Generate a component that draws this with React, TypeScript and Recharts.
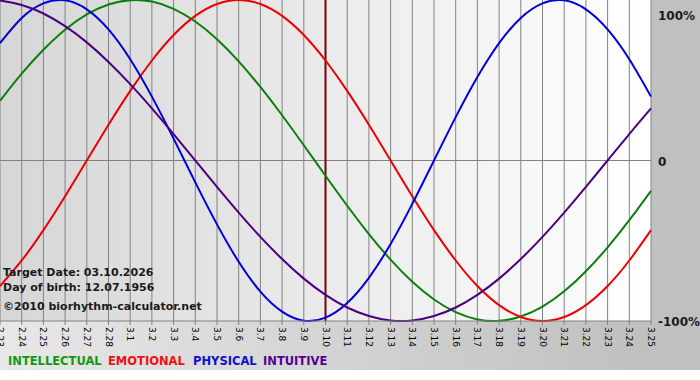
import { LineChart, Line, XAxis, YAxis, CartesianGrid, ReferenceLine } from 'recharts'

// days around the target date (month.day)
const days = [
  '2.23', '2.24', '2.25', '2.26', '2.27', '2.28', '3.1', '3.2', '3.3', '3.4', '3.5',
  '3.6', '3.7', '3.8', '3.9', '3.10', '3.11', '3.12', '3.13', '3.14', '3.15', '3.16',
  '3.17', '3.18', '3.19', '3.20', '3.21', '3.22', '3.23', '3.24', '3.25',
]

// values in percent
const physical = [73.1, 88.8, 97.9, 99.8, 94.2, 81.7, 63.1, 39.8, 13.6, -13.6, -39.8, -63.1, -81.7, -94.2, -99.8, -97.9, -88.8, -73.1, -52.0, -27.0, 0, 27.0, 52.0, 73.1, 88.8, 97.9, 99.8, 94.2, 81.7, 63.1, 39.8]
const emotional = [-78.2, -62.3, -43.4, -22.3, 0, 22.3, 43.4, 62.3, 78.2, 90.1, 97.5, 100, 97.5, 90.1, 78.2, 62.3, 43.4, 22.3, 0, -22.3, -43.4, -62.3, -78.2, -90.1, -97.5, -100, -97.5, -90.1, -78.2, -62.3, -43.4]
const intellectual = [37.2, 54.1, 69.0, 81.5, 91.0, 97.2, 99.9, 99.0, 94.5, 86.6, 75.6, 61.8, 45.8, 28.2, 9.5, -9.5, -28.2, -45.8, -61.8, -75.6, -86.6, -94.5, -99.0, -99.9, -97.2, -91.0, -81.5, -69.0, -54.1, -37.2, -18.9]
const intuitive = [99.7, 96.9, 91.6, 83.7, 73.6, 61.4, 47.6, 32.5, 16.5, 0, -16.5, -32.5, -47.6, -61.4, -73.6, -83.7, -91.6, -96.9, -99.7, -99.7, -96.9, -91.6, -83.7, -73.6, -61.4, -47.6, -32.5, -16.5, 0, 16.5, 32.5]

const yTicks = [-100, 0, 100]
const targetDay = '3.10'

const legend = [
  { name: 'INTELLECTUAL', color: '#119911', left: 8 },
  { name: 'EMOTIONAL', color: '#ee1111', left: 108 },
  { name: 'PHYSICAL', color: '#1111cc', left: 193 },
  { name: 'INTUITIVE', color: '#550099', left: 263 },
]

const chartData = days.map((day, i) => ({
  day,
  physical: physical[i],
  emotional: emotional[i],
  intellectual: intellectual[i],
  intuitive: intuitive[i],
}))

function DayTick({ x, y, payload }: { x?: number; y?: number; payload?: { value: string } }) {
  return (
    <text
      x={x}
      y={y}
      transform={`rotate(90 ${x} ${y})`}
      textAnchor="start"
      dominantBaseline="central"
      fontSize={9}
      fill="#000"
    >
      {payload?.value}
    </text>
  )
}

function PercentTick({ x, y, payload }: { x?: number; y?: number; payload?: { value: number } }) {
  const v = payload?.value ?? 0
  const label = v === 0 ? '0' : `${v}%`
  return (
    <text
      x={x}
      y={(y ?? 0) + (v === 100 ? 7 : 1)}
      textAnchor="start"
      dominantBaseline="central"
      fontSize={12}
      fontWeight="bold"
      fill="#1a1a1a"
    >
      {label}
    </text>
  )
}

const infoStyle = {
  position: 'absolute' as const,
  left: 3,
  fontSize: 11,
  fontWeight: 'bold' as const,
  lineHeight: '13px',
  color: '#1a1a1a',
  whiteSpace: 'nowrap' as const,
}

export default function App() {
  return (
    <div
      style={{
        position: 'absolute',
        left: 0,
        top: 0,
        width: 700,
        height: 380,
        background: '#fff',
        fontFamily: '"DejaVu Sans", Verdana, sans-serif',
      }}
    >
      <div
        style={{
          position: 'absolute',
          left: 0,
          top: 0,
          width: 700,
          height: 370,
          background: 'linear-gradient(to right, #e8e8e8 0%, #c0c0c0 92%, #c0c0c0 100%)',
        }}
      />
      <div style={{ position: 'absolute', left: 0, top: 0 }}>
        <LineChart width={700} height={380} data={chartData} margin={{ top: 0, right: 0, left: 0, bottom: 0 }}>
          <defs>
            <linearGradient id="plotBg" x1="0" y1="0" x2="1" y2="0">
              <stop offset="0%" stopColor="#d6d6d6" />
              <stop offset="100%" stopColor="#ffffff" />
            </linearGradient>
          </defs>
          <CartesianGrid horizontal={false} stroke="#828282" fill="url(#plotBg)" fillOpacity={1} />
          <XAxis
            dataKey="day"
            interval={0}
            height={59}
            tick={<DayTick />}
            tickSize={4}
            tickMargin={2}
            stroke="#828282"
            padding={{ left: 0, right: 0 }}
          />
          <YAxis
            orientation="right"
            width={49}
            domain={[-100, 100]}
            ticks={yTicks}
            tick={<PercentTick />}
            tickLine={false}
            axisLine={false}
            tickSize={0}
            tickMargin={7}
          />
          <ReferenceLine y={0} stroke="#828282" />
          <ReferenceLine x={targetDay} stroke="#7a0000" strokeWidth={2} />
          <Line type="natural" dataKey="intellectual" stroke="#0a800a" strokeWidth={2} dot={false} activeDot={false} isAnimationActive={false} />
          <Line type="natural" dataKey="emotional" stroke="#ee0000" strokeWidth={2} dot={false} activeDot={false} isAnimationActive={false} />
          <Line type="natural" dataKey="physical" stroke="#0000dd" strokeWidth={2} dot={false} activeDot={false} isAnimationActive={false} />
          <Line type="natural" dataKey="intuitive" stroke="#4b0082" strokeWidth={2} dot={false} activeDot={false} isAnimationActive={false} />
        </LineChart>
      </div>
      <div style={{ ...infoStyle, top: 266 }}>Target Date: 03.10.2026</div>
      <div style={{ ...infoStyle, top: 281 }}>Day of birth: 12.07.1956</div>
      <div style={{ ...infoStyle, top: 300 }}>©2010 biorhythm-calculator.net</div>
      {legend.map(l => (
        <div
          key={l.name}
          style={{ ...infoStyle, left: l.left, top: 355, fontSize: 11.5, color: l.color }}
        >
          {l.name}
        </div>
      ))}
    </div>
  )
}
